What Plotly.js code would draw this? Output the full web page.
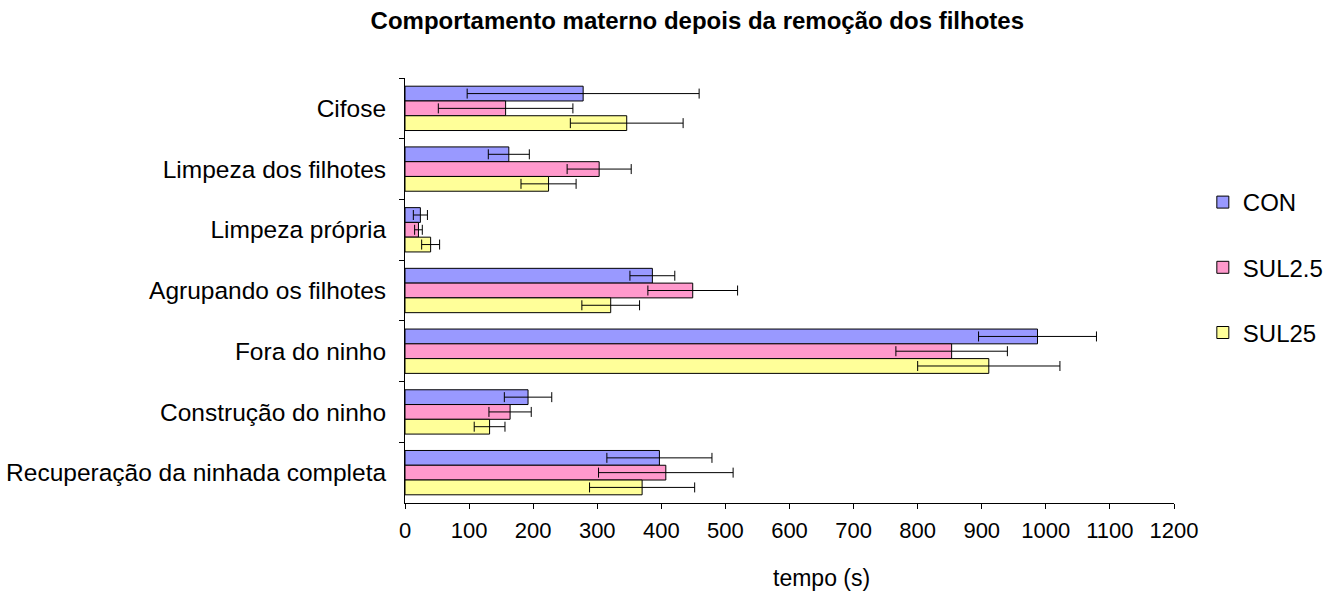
<!DOCTYPE html>
<html>
<head>
<meta charset="utf-8">
<script src="https://cdn.plot.ly/plotly-3.0.1.min.js"></script>
<style>html,body{margin:0;padding:0;background:#fff;}#chart{width:1341px;height:594px;}</style>
</head>
<body>
<div id="chart"></div>
<script>
const categories = ["Cifose", "Limpeza dos filhotes", "Limpeza própria", "Agrupando os filhotes", "Fora do ninho", "Construção do ninho", "Recuperação da ninhada completa"];
const seriesNames = ["CON", "SUL2.5", "SUL25"];
const conValues   = [278, 162, 24, 386, 987, 192, 397];
const conErrors   = [181, 32, 11, 35, 92, 37, 82];
const sul25Values = [157, 303, 21, 449, 853, 164, 407];
const sul25Errors = [105, 50, 6, 70, 87, 33, 105];
const sul250Values = [346, 224, 40, 321, 911, 132, 370];
const sul250Errors = [88, 43, 14, 45, 111, 24, 82];
const colors = ["#9999FF", "#FF99CC", "#FFFF99"];
const xTitle = "tempo (s)";

const values = [conValues, sul25Values, sul250Values];
const errors = [conErrors, sul25Errors, sul250Errors];

const traces = seriesNames.map((name, i) => ({
  type: "bar",
  orientation: "h",
  name: name,
  legendgroup: name,
  y: categories,
  x: values[i],
  marker: {color: colors[i], line: {color: "#000", width: 1}},
  error_x: {type: "data", array: errors[i], visible: true, color: "#000", thickness: 1, width: 5}
}));

const font = "Liberation Sans, Arial, sans-serif";
const layout = {
  width: 1341, height: 594,
  margin: {l: 405, r: 162, t: 78, b: 91, pad: 0},
  paper_bgcolor: "#fff", plot_bgcolor: "#fff",
  barmode: "group", bargap: 0.27, bargroupgap: 0,
  title: {text: "<b>Comportamento materno depois da remoção dos filhotes</b>", font: {family: font, size: 24, color: "#000"}, x: 0.520, xanchor: "center", y: 0.965, yanchor: "middle"},
  xaxis: {
    range: [0, 1200], dtick: 100, tick0: 0, showgrid: false, zeroline: false,
    showline: true, linecolor: "#000", linewidth: 1,
    ticks: "outside", ticklen: 5, tickcolor: "#000",
    ticklabelstandoff: 3,
    tickfont: {family: font, size: 22, color: "#000"}
  },
  yaxis: {
    autorange: "reversed", showgrid: false, zeroline: false,
    showline: true, linecolor: "#000", linewidth: 1,
    ticks: "outside", ticklen: 5, tickcolor: "#000", tickson: "boundaries",
    ticklabelstandoff: 13,
    tickfont: {family: font, size: 24.5, color: "#000"}
  },
  legend: {
    x: 1.0375, xanchor: "left", y: 0.76, yanchor: "top",
    traceorder: "grouped", tracegroupgap: 31,
    font: {family: font, size: 24, color: "#000"},
    itemwidth: 30
  },
  annotations: [{
    text: xTitle, xref: "paper", yref: "paper", x: 0.541, y: -0.176,
    xanchor: "center", yanchor: "middle", showarrow: false,
    font: {family: font, size: 23, color: "#000"}
  }],
  showlegend: true
};

Plotly.newPlot("chart", traces, layout, {displayModeBar: false, staticPlot: true});
</script>
</body>
</html>
